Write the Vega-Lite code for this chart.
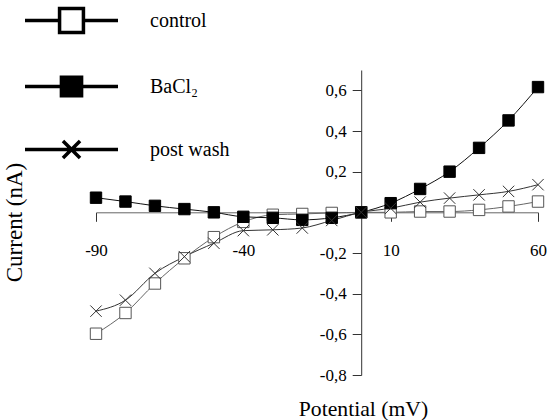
{
  "$schema": "https://vega.github.io/schema/vega-lite/v6.json",
  "width": 442,
  "height": 305,
  "autosize": {"type": "none"},
  "padding": {"left": 96, "top": 70, "right": 12, "bottom": 45},
  "background": "white",
  "config": {
    "view": {"stroke": null},
    "font": "Liberation Serif",
    "axis": {
      "grid": false,
      "labelColor": "black",
      "titleFontWeight": "normal",
      "titleColor": "black",
      "labelFlush": false,
      "labelOverlap": false
    }
  },
  "data": {
    "values": [
      {"V": -90, "I": -0.597, "series": "control"},
      {"V": -80, "I": -0.495, "series": "control"},
      {"V": -70, "I": -0.35, "series": "control"},
      {"V": -60, "I": -0.226, "series": "control"},
      {"V": -50, "I": -0.122, "series": "control"},
      {"V": -40, "I": -0.047, "series": "control"},
      {"V": -30, "I": -0.012, "series": "control"},
      {"V": -20, "I": -0.008, "series": "control"},
      {"V": -10, "I": -0.003, "series": "control"},
      {"V": 0, "I": 0.0, "series": "control"},
      {"V": 10, "I": 0.0, "series": "control"},
      {"V": 20, "I": 0.004, "series": "control"},
      {"V": 30, "I": 0.004, "series": "control"},
      {"V": 40, "I": 0.012, "series": "control"},
      {"V": 50, "I": 0.029, "series": "control"},
      {"V": 60, "I": 0.053, "series": "control"},
      {"V": -90, "I": 0.072, "series": "BaCl₂"},
      {"V": -80, "I": 0.053, "series": "BaCl₂"},
      {"V": -70, "I": 0.032, "series": "BaCl₂"},
      {"V": -60, "I": 0.016, "series": "BaCl₂"},
      {"V": -50, "I": 0.0, "series": "BaCl₂"},
      {"V": -40, "I": -0.022, "series": "BaCl₂"},
      {"V": -30, "I": -0.027, "series": "BaCl₂"},
      {"V": -20, "I": -0.037, "series": "BaCl₂"},
      {"V": -10, "I": -0.027, "series": "BaCl₂"},
      {"V": 0, "I": 0.0, "series": "BaCl₂"},
      {"V": 10, "I": 0.045, "series": "BaCl₂"},
      {"V": 20, "I": 0.115, "series": "BaCl₂"},
      {"V": 30, "I": 0.2, "series": "BaCl₂"},
      {"V": 40, "I": 0.317, "series": "BaCl₂"},
      {"V": 50, "I": 0.452, "series": "BaCl₂"},
      {"V": 60, "I": 0.616, "series": "BaCl₂"},
      {"V": -90, "I": -0.486, "series": "post wash"},
      {"V": -80, "I": -0.432, "series": "post wash"},
      {"V": -70, "I": -0.3, "series": "post wash"},
      {"V": -60, "I": -0.218, "series": "post wash"},
      {"V": -50, "I": -0.152, "series": "post wash"},
      {"V": -40, "I": -0.09, "series": "post wash"},
      {"V": -30, "I": -0.086, "series": "post wash"},
      {"V": -20, "I": -0.077, "series": "post wash"},
      {"V": -10, "I": -0.04, "series": "post wash"},
      {"V": 0, "I": 0.0, "series": "post wash"},
      {"V": 10, "I": 0.02, "series": "post wash"},
      {"V": 20, "I": 0.05, "series": "post wash"},
      {"V": 30, "I": 0.07, "series": "post wash"},
      {"V": 40, "I": 0.086, "series": "post wash"},
      {"V": 50, "I": 0.103, "series": "post wash"},
      {"V": 60, "I": 0.136, "series": "post wash"}
    ]
  },
  "encoding": {
    "x": {
      "field": "V",
      "type": "quantitative",
      "scale": {"domain": [-90, 60], "nice": false, "zero": false},
      "axis": {
        "values": [-90, -40, 10, 60],
        "labelExpr": "datum.value + ''",
        "labelFont": "Liberation Serif",
        "labelFontSize": 17,
        "titleFont": "Liberation Serif",
        "titleFontSize": 21.7,
        "offset": -162.7,
        "tickSize": 9,
        "tickColor": "#333",
        "domainColor": "#666",
        "labelPadding": 21,
        "title": "Potential (mV)",
        "titleX": 267,
        "titleY": 196,
        "titleAlign": "center",
        "titleBaseline": "middle"
      }
    },
    "y": {
      "field": "I",
      "type": "quantitative",
      "scale": {"domain": [-0.8, 0.7], "nice": false, "zero": false},
      "axis": {
        "values": [-0.8, -0.6, -0.4, -0.2, 0.2, 0.4, 0.6],
        "labelExpr": "replace(datum.value + '', '.', ',')",
        "labelFont": "Liberation Serif",
        "labelFontSize": 17,
        "titleFont": "Liberation Serif",
        "titleFontSize": 23,
        "offset": -265.2,
        "tickSize": 9,
        "tickColor": "#333",
        "domainColor": "#333",
        "labelPadding": 6,
        "title": "Current (nA)",
        "titleX": -347,
        "titleY": 152,
        "titleAngle": 270,
        "titleAlign": "center",
        "titleBaseline": "middle"
      }
    }
  },
  "layer": [
    {
      "mark": {"type": "line", "strokeWidth": 1, "interpolate": "monotone"},
      "encoding": {
        "stroke": {
          "field": "series",
          "type": "nominal",
          "scale": {"domain": ["control", "BaCl₂", "post wash"], "range": ["#666666", "#111111", "#333333"]},
          "legend": null
        }
      }
    },
    {
      "mark": {"type": "point", "size": 130, "strokeWidth": 1, "opacity": 1},
      "encoding": {
        "shape": {
          "field": "series",
          "type": "nominal",
          "scale": {"domain": ["control", "BaCl₂", "post wash"], "range": ["square", "square", "M-1,-1L1,1M1,-1L-1,1"]},
          "legend": null
        },
        "fill": {
          "field": "series",
          "type": "nominal",
          "scale": {"domain": ["control", "BaCl₂", "post wash"], "range": ["white", "black", "transparent"]},
          "legend": null
        },
        "stroke": {
          "field": "series",
          "type": "nominal",
          "scale": {"domain": ["control", "BaCl₂", "post wash"], "range": ["#555555", "black", "#333333"]},
          "legend": null
        }
      }
    },
    {
      "mark": {"type": "point", "size": 961, "opacity": 0, "strokeWidth": 3.5},
      "encoding": {
        "shape": {
          "field": "series",
          "type": "nominal",
          "scale": {"domain": ["control", "BaCl₂", "post wash"], "range": [
            "M-3,0H-0.77M0.77,0H3M-0.77,-0.77H0.77V0.77H-0.77Z",
            "M-3,0H-0.65M0.65,0H3M-0.65,-0.6H0.65V0.6H-0.65Z",
            "M-3,0H3M-0.55,-0.55L0.55,0.55M0.55,-0.55L-0.55,0.55"
          ]},
          "legend": {
            "orient": "none",
            "legendX": -42,
            "legendY": -67,
            "title": null,
            "padding": 0,
            "rowPadding": 29,
            "labelOffset": 61,
            "labelFont": "Liberation Serif",
            "labelFontSize": 20,
            "labelColor": "black",
            "symbolSize": 961,
            "symbolStrokeWidth": 3.5,
            "symbolOpacity": 1
          }
        },
        "fill": {
          "field": "series",
          "type": "nominal",
          "scale": {"domain": ["control", "BaCl₂", "post wash"], "range": ["white", "black", "transparent"]},
          "legend": {
            "orient": "none",
            "legendX": -42,
            "legendY": -67,
            "title": null,
            "padding": 0,
            "rowPadding": 29,
            "labelOffset": 61,
            "labelFont": "Liberation Serif",
            "labelFontSize": 20,
            "labelColor": "black",
            "symbolSize": 961,
            "symbolStrokeWidth": 3.5,
            "symbolOpacity": 1
          }
        },
        "stroke": {
          "field": "series",
          "type": "nominal",
          "scale": {"domain": ["control", "BaCl₂", "post wash"], "range": ["black", "black", "black"]},
          "legend": {
            "orient": "none",
            "legendX": -42,
            "legendY": -67,
            "title": null,
            "padding": 0,
            "rowPadding": 29,
            "labelOffset": 61,
            "labelFont": "Liberation Serif",
            "labelFontSize": 20,
            "labelColor": "black",
            "symbolSize": 961,
            "symbolStrokeWidth": 3.5,
            "symbolOpacity": 1
          }
        }
      }
    }
  ],
  "resolve": {"scale": {"shape": "independent", "fill": "independent", "stroke": "independent"}}
}
